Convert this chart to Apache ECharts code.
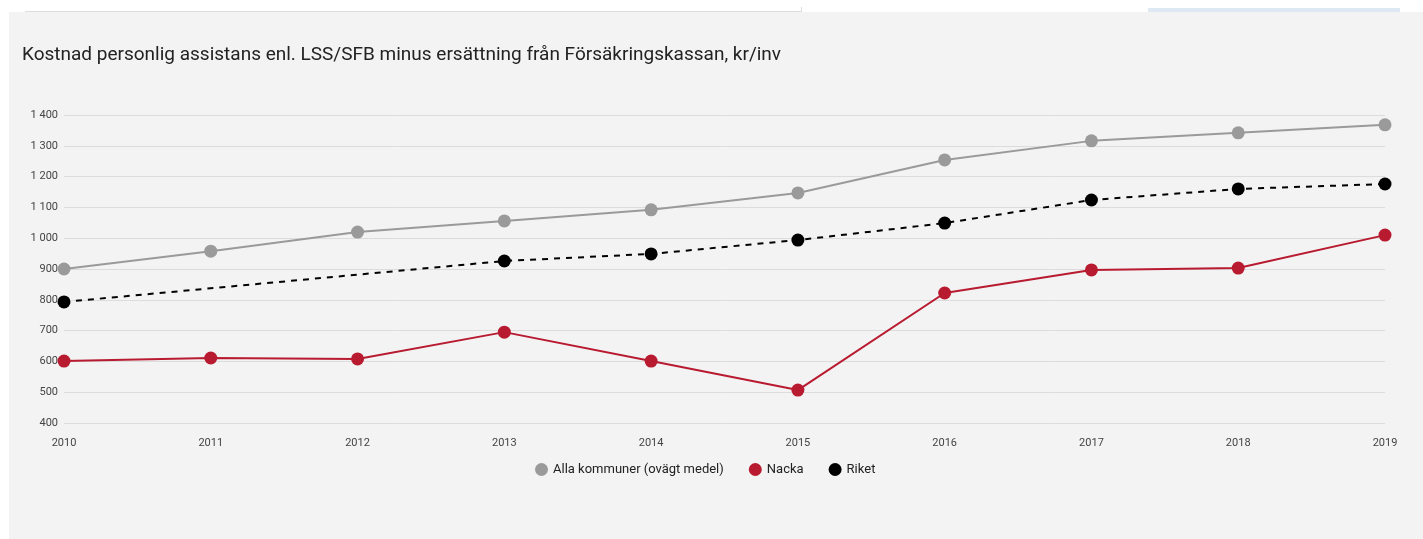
<!DOCTYPE html>
<html>
<head>
<meta charset="utf-8">
<script src="https://cdn.jsdelivr.net/npm/echarts@6/dist/echarts.min.js"></script>
<style>
  body { margin: 0; background: #fff; }
  #panel { position: absolute; left: 9px; top: 12px; width: 1414px; height: 527px; background: #f3f3f3; }
  #topline { position: absolute; left: 25px; top: 11px; width: 776px; height: 1px; background: #ddd; }
  #vline { position: absolute; left: 801px; top: 7px; width: 1px; height: 5px; background: #ddd; }
  #bluebox { position: absolute; left: 1148px; top: 8px; width: 252px; height: 4px; background: #dde8f3; }
  #main { position: absolute; left: 0; top: 0; width: 1423px; height: 539px; }
</style>
</head>
<body>
<div id="panel"></div>
<div id="topline"></div>
<div id="vline"></div>
<div id="bluebox"></div>
<div id="main"></div>
<script>
var years = ['2010','2011','2012','2013','2014','2015','2016','2017','2018','2019'];
var alla = [900, 958, 1020, 1056, 1092, 1147, 1254, 1316, 1342, 1368];
var nacka = [601, 611, 608, 695, 601, 507, 822, 897, 903, 1010];
var riket = [793, null, null, 926, 949, 994, 1049, 1124, 1160, 1176];

showChart();

function showChart(){
    var myChart = echarts.init(document.getElementById('main'));
    var option = {
        backgroundColor: 'transparent',
        animation: false,
        title: {
            text: 'Kostnad personlig assistans enl. LSS/SFB minus ersättning från Försäkringskassan, kr/inv',
            left: 22,
            top: 46,
            padding: 0,
            textStyle: { fontFamily: 'Roboto', fontSize: 19, fontWeight: 'normal', color: '#222' }
        },
        legend: {
            top: 458,
            left: 530,
            icon: 'circle',
            itemWidth: 13,
            itemHeight: 13,
            itemGap: 25,
            textStyle: { fontFamily: 'Roboto', fontSize: 13, color: '#222' },
            data: ['Alla kommuner (ovägt medel)', 'Nacka', 'Riket']
        },
        grid: { left: 64, right: 38, top: 115, bottom: 116 },
        xAxis: {
            type: 'category',
            boundaryGap: false,
            data: years,
            axisLine: { show: false },
            axisTick: { show: false },
            axisLabel: { fontFamily: 'Roboto', fontSize: 11, color: '#444', margin: 15 }
        },
        yAxis: {
            type: 'value',
            min: 400,
            max: 1400,
            interval: 100,
            axisLabel: {
                fontFamily: 'Roboto', fontSize: 11, color: '#444', margin: 6,
                formatter: function(v){ return String(v).replace(/\B(?=(\d{3})+(?!\d))/g, ' '); }
            },
            splitLine: { lineStyle: { color: '#dcdcdc', width: 1 } }
        },
        series: [
            {
                name: 'Alla kommuner (ovägt medel)',
                type: 'line',
                data: alla,
                symbol: 'circle',
                symbolSize: 13,
                itemStyle: { color: '#9a9a9a' },
                lineStyle: { color: '#9a9a9a', width: 2 }
            },
            {
                name: 'Nacka',
                type: 'line',
                data: nacka,
                symbol: 'circle',
                symbolSize: 13,
                itemStyle: { color: '#b81a30' },
                lineStyle: { color: '#b81a30', width: 2 }
            },
            {
                name: 'Riket',
                type: 'line',
                data: riket,
                connectNulls: true,
                symbol: 'circle',
                symbolSize: 13,
                itemStyle: { color: '#000' },
                lineStyle: { color: '#000', width: 2, type: [6, 6] }
            }
        ]
    };
    myChart.setOption(option);
}
</script>
</body>
</html>
